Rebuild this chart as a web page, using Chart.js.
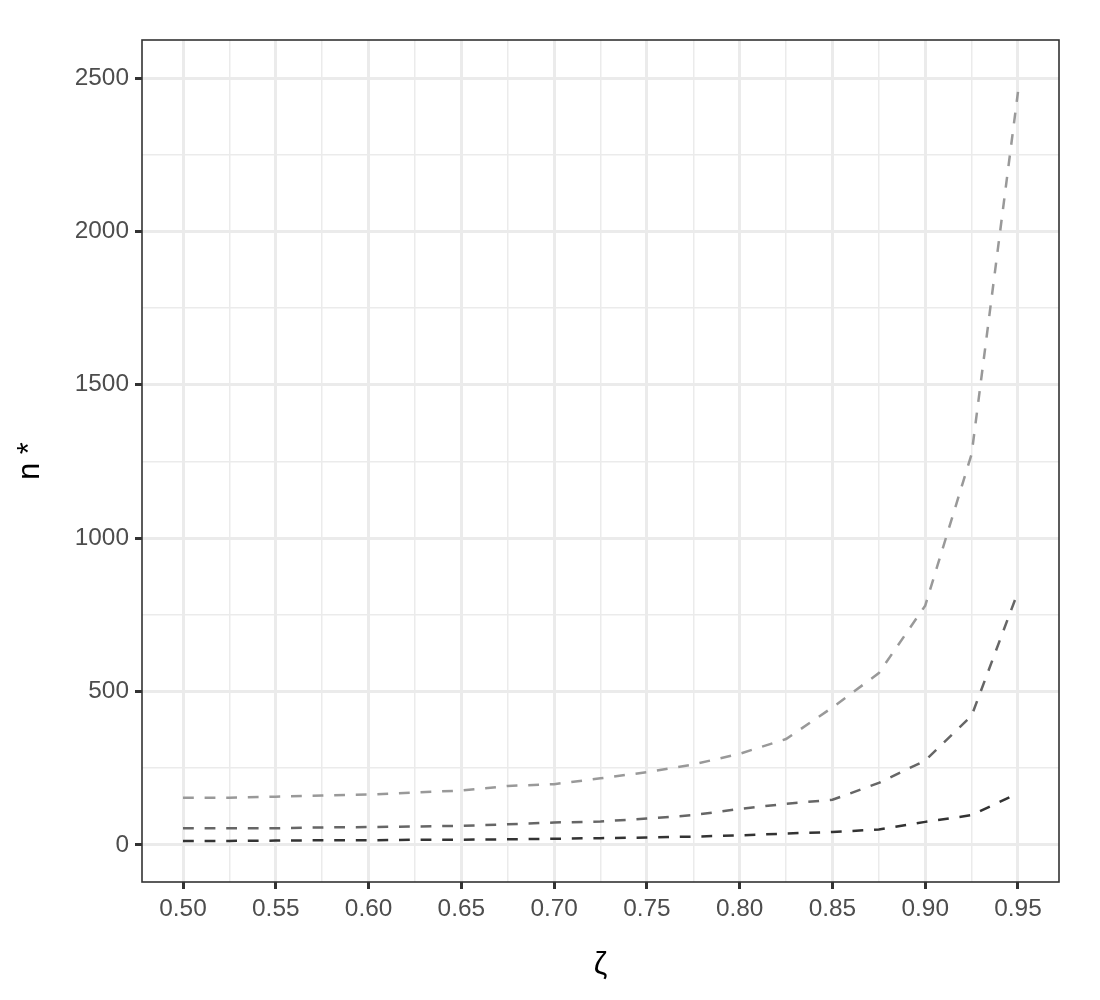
<!DOCTYPE html>
<html>
<head>
<meta charset="utf-8">
<script src="https://cdn.jsdelivr.net/npm/chart.js@4"></script>
<style>
  html, body { margin: 0; padding: 0; background: #ffffff; }
  #wrap { width: 1100px; height: 1000px; }
</style>
</head>
<body>
<div id="wrap"><canvas id="c" width="1100" height="1000"></canvas></div>
<script>
const zeta = [0.5, 0.525, 0.55, 0.575, 0.6, 0.625, 0.65, 0.675, 0.7, 0.725, 0.75, 0.775, 0.8, 0.825, 0.85, 0.875, 0.9, 0.925, 0.95];
const seriesLight  = [154, 154, 157, 161, 164, 171, 177, 192, 198, 217, 237, 262, 297, 345, 448, 560, 780, 1274, 2455];
const seriesMid    = [54, 54, 54, 57, 58, 60, 62, 67, 73, 76, 86, 97, 117, 134, 147, 202, 275, 421, 825];
const seriesDark   = [13, 13, 14, 15, 15, 17, 17, 18, 20, 22, 24, 27, 31, 37, 42, 50, 75, 97, 168];

const xMajorTicks = [0.5, 0.55, 0.6, 0.65, 0.7, 0.75, 0.8, 0.85, 0.9, 0.95];
const xMinorTicks = [0.525, 0.575, 0.625, 0.675, 0.725, 0.775, 0.825, 0.875, 0.925];
const yMajorTicks = [0, 500, 1000, 1500, 2000, 2500];
const yMinorTicks = [250, 750, 1250, 1750, 2250];

const xTitle = 'ζ';
const yTitle = 'n *';

function isMajor(list, v) { return list.some(t => Math.abs(t - v) < 1e-9); }

const pts = arr => zeta.map((z, i) => ({ x: z, y: arr[i] }));

const panelBorder = {
  id: 'panelBorder',
  afterDatasetsDraw(chart) {
    const { ctx, chartArea: a } = chart;
    ctx.save();
    ctx.strokeStyle = '#333333';
    ctx.lineWidth = 1.6;
    ctx.strokeRect(a.left, a.top, a.right - a.left, a.bottom - a.top);
    ctx.restore();
  }
};

const tickFont = { family: "'Liberation Sans', Arial, sans-serif", size: 24.4 };
const titleFont = { family: "'Liberation Sans', Arial, sans-serif", size: 30.6, lineHeight: 1.2 };

new Chart(document.getElementById('c'), {
  type: 'line',
  data: {
    datasets: [
      { data: pts(seriesLight), borderColor: '#999999' },
      { data: pts(seriesMid), borderColor: '#666666' },
      { data: pts(seriesDark), borderColor: '#333333' }
    ].map(d => Object.assign(d, { borderWidth: 2.5, borderDash: [10.8, 10.8], pointRadius: 0, tension: 0, fill: false }))
  },
  options: {
    responsive: false,
    animation: false,
    devicePixelRatio: 1,
    layout: { padding: { top: 40, right: 41, left: 0, bottom: 0 } },
    plugins: { legend: { display: false }, tooltip: { enabled: false } },
    scales: {
      x: {
        type: 'linear',
        min: 0.4779,
        max: 0.9721,
        afterBuildTicks: s => { s.ticks = xMajorTicks.concat(xMinorTicks).sort((a, b) => a - b).map(v => ({ value: v })); },
        afterFit: s => { s.height = 118; },
        border: { display: false },
        grid: {
          color: '#EBEBEB',
          lineWidth: c => isMajor(xMajorTicks, c.tick.value) ? 3 : 1.5,
          tickColor: c => isMajor(xMajorTicks, c.tick.value) ? '#333333' : 'rgba(0,0,0,0)',
          tickWidth: 3,
          tickLength: 7
        },
        ticks: {
          autoSkip: false,
          maxRotation: 0,
          padding: 6,
          color: '#4D4D4D',
          font: tickFont,
          callback: v => isMajor(xMajorTicks, v) ? v.toFixed(2) : ''
        },
        title: { display: true, text: xTitle, color: '#000000', font: titleFont, padding: { top: 0, bottom: 16 } }
      },
      y: {
        type: 'linear',
        min: -121,
        max: 2624,
        afterBuildTicks: s => { s.ticks = yMajorTicks.concat(yMinorTicks).sort((a, b) => a - b).map(v => ({ value: v })); },
        afterFit: s => { s.width = 142; },
        border: { display: false },
        grid: {
          color: '#EBEBEB',
          lineWidth: c => isMajor(yMajorTicks, c.tick.value) ? 3 : 1.5,
          tickColor: c => isMajor(yMajorTicks, c.tick.value) ? '#333333' : 'rgba(0,0,0,0)',
          tickWidth: 3,
          tickLength: 7
        },
        ticks: {
          autoSkip: false,
          padding: 6,
          color: '#4D4D4D',
          font: tickFont,
          callback: v => isMajor(yMajorTicks, v) ? String(v) : ''
        },
        title: { display: true, text: yTitle, color: '#000000', font: titleFont, padding: { top: 12, bottom: 0 } }
      }
    }
  },
  plugins: [panelBorder]
});
</script>
</body>
</html>
